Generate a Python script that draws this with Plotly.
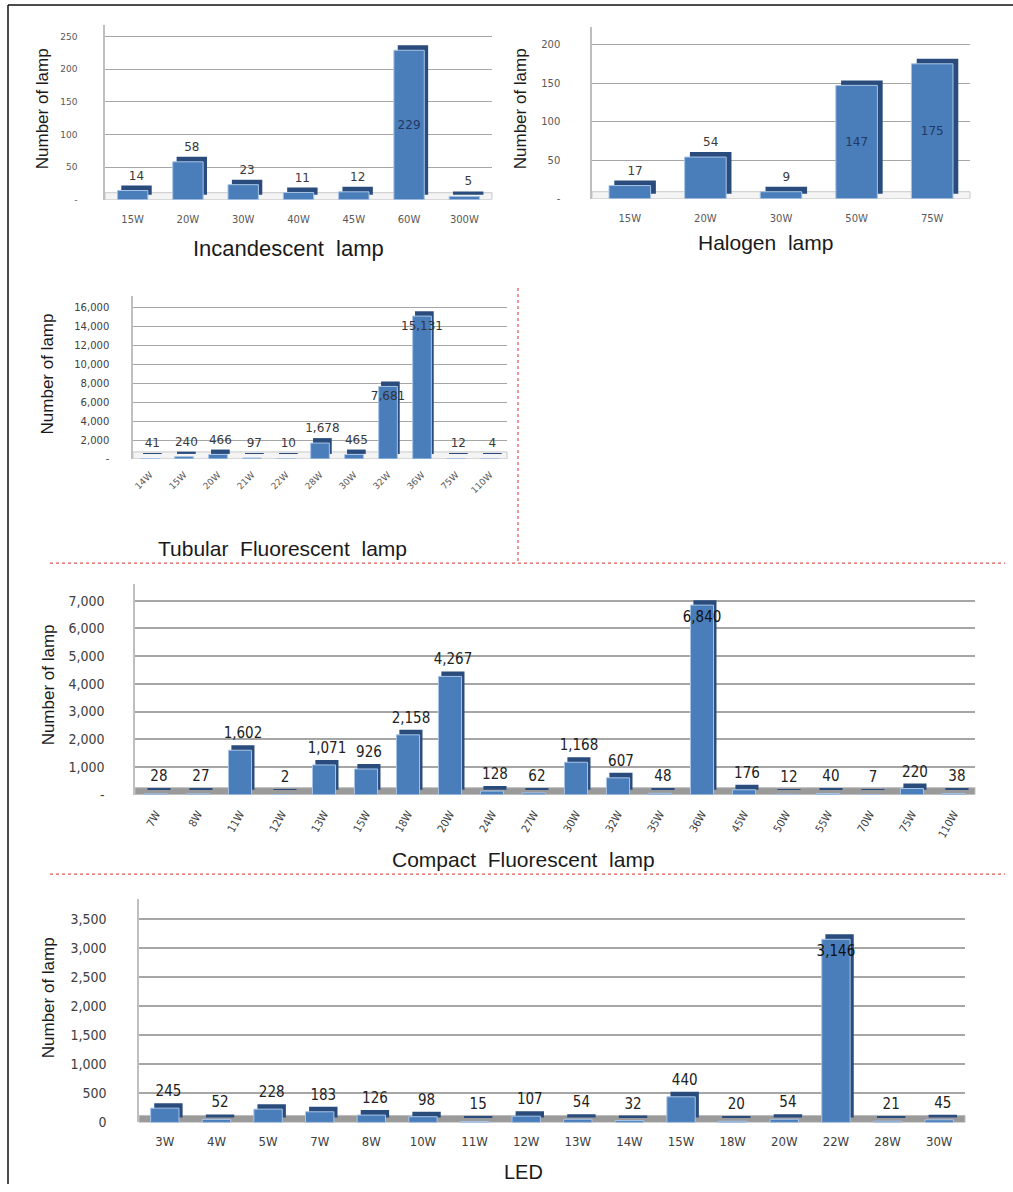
import plotly.graph_objects as go

# ---- lamp inventory by wattage -------------------------------------------
incandescent_watts = ["15W", "20W", "30W", "40W", "45W", "60W", "300W"]
incandescent_counts = [14, 58, 23, 11, 12, 229, 5]

halogen_watts = ["15W", "20W", "30W", "50W", "75W"]
halogen_counts = [17, 54, 9, 147, 175]

tubular_watts = ["14W", "15W", "20W", "21W", "22W", "28W", "30W", "32W", "36W", "75W", "110W"]
tubular_counts = [41, 240, 466, 97, 10, 1678, 465, 7681, 15131, 12, 4]

compact_watts = ["7W", "8W", "11W", "12W", "13W", "15W", "18W", "20W", "24W", "27W",
                 "30W", "32W", "35W", "36W", "45W", "50W", "55W", "70W", "75W", "110W"]
compact_counts = [28, 27, 1602, 2, 1071, 926, 2158, 4267, 128, 62,
                  1168, 607, 48, 6840, 176, 12, 40, 7, 220, 38]

led_watts = ["3W", "4W", "5W", "7W", "8W", "10W", "11W", "12W", "13W", "14W",
             "15W", "18W", "20W", "22W", "28W", "30W"]
led_counts = [245, 52, 228, 183, 126, 98, 15, 107, 54, 32, 440, 20, 54, 3146, 21, 45]

W, H = 1013, 1192

FRONT = "#4a7ebb"
SIDE = "#2a4c7c"
EDGE = "#a8c4e6"
GRID = "#a6a6a6"
TEXT = "#3a3a3a"
NARROW = "DejaVu Sans Condensed, Liberation Sans Narrow, Arial Narrow, sans-serif"
VERDANA = "DejaVu Sans, Verdana, sans-serif"
ARIAL = "Liberation Sans, Arial, sans-serif"


def xdom(left, right):
    return [left / W, right / W]


def ydom(top, bottom):
    return [1 - bottom / H, 1 - top / H]


# layout of each panel (pixel boxes) and axis styling
panels = [
    dict(cats=incandescent_watts, vals=incandescent_counts, x=(105, 492), y=(25, 201),
         ymax=268, step=50, zero="-", inside_min=100, anchor="middle",
         tickfont=dict(family=VERDANA, size=9, color="#595959"),
         xtickfont=dict(family=VERDANA, size=10, color="#595959"), tickangle=0,
         labelfont=dict(family=VERDANA, size=12, color=TEXT),
         insidefont=dict(family=VERDANA, size=12, color="#1f3864"),
         floor="#f4f4f4", floorline="#c8c8c8", grid=1.4, xstand=12, ystand=24),
    dict(cats=halogen_watts, vals=halogen_counts, x=(592, 970), y=(27, 200),
         ymax=223, step=50, zero="-", inside_min=100, anchor="middle",
         tickfont=dict(family=VERDANA, size=10, color="#595959"),
         xtickfont=dict(family=VERDANA, size=10, color="#595959"), tickangle=0,
         labelfont=dict(family=VERDANA, size=12, color=TEXT),
         insidefont=dict(family=VERDANA, size=12, color="#1f3864"),
         floor="#f4f4f4", floorline="#c8c8c8", grid=1.4, xstand=12, ystand=28),
    dict(cats=tubular_watts, vals=tubular_counts, x=(133, 507), y=(298, 462),
         ymax=17260, step=2000, zero="-", inside_min=5000, anchor="end",
         tickfont=dict(family=VERDANA, size=10, color="#404040"),
         xtickfont=dict(family=VERDANA, size=9, color="#595959"), tickangle=-45,
         labelfont=dict(family=VERDANA, size=12, color=TEXT),
         insidefont=dict(family=VERDANA, size=12, color="#333333"),
         floor="#f4f4f4", floorline="#c8c8c8", grid=1.4, xstand=8, ystand=20),
    dict(cats=compact_watts, vals=compact_counts, x=(135, 975), y=(588, 800),
         ymax=7600, step=1000, zero="-", inside_min=5000, anchor="end",
         tickfont=dict(family=NARROW, size=14, color="#404040"),
         xtickfont=dict(family=NARROW, size=11, color="#404040"), tickangle=-60,
         labelfont=dict(family=NARROW, size=15, color="#222222"),
         insidefont=dict(family=NARROW, size=15, color="#111111"),
         floor="#9a9a9a", floorline="#bdbdbd", grid=2, xstand=10, ystand=26),
    dict(cats=led_watts, vals=led_counts, x=(139, 965), y=(905, 1130),
         ymax=3840, step=500, zero="0", inside_min=2000, anchor="end",
         tickfont=dict(family=NARROW, size=14, color="#404040"),
         xtickfont=dict(family=NARROW, size=13, color="#404040"), tickangle=0,
         labelfont=dict(family=NARROW, size=15, color="#222222"),
         insidefont=dict(family=NARROW, size=15, color="#111111"),
         floor="#9a9a9a", floorline="#bdbdbd", grid=2.2, xstand=10, ystand=28),
]

fig = go.Figure()
shapes = []
BAR_W = 0.55
DEPTH_X = 0.07

for i, p in enumerate(panels, start=1):
    xa = "x" if i == 1 else f"x{i}"
    ya = "y" if i == 1 else f"y{i}"
    plot_h = p["y"][1] - p["y"][0]
    depth = 5 * p["ymax"] / plot_h  # ~5px of extrusion in data units
    labels = [f"{v:,}" for v in p["vals"]]
    outside = [t if v < p["inside_min"] else "" for t, v in zip(labels, p["vals"])]
    inside = [t if v >= p["inside_min"] else "" for t, v in zip(labels, p["vals"])]

    # extruded side/top face, lifted and shifted right of the front face
    fig.add_trace(go.Bar(
        x=p["cats"], y=p["vals"], base=depth, width=BAR_W,
        offset=-BAR_W / 2 + DEPTH_X, xaxis=xa, yaxis=ya,
        marker=dict(color=SIDE, line=dict(width=0)),
        text=outside, textposition="outside", textangle=0,
        textfont=p["labelfont"], cliponaxis=False, constraintext="none",
        hoverinfo="skip", showlegend=False))
    # front face
    fig.add_trace(go.Bar(
        x=p["cats"], y=p["vals"], width=BAR_W, offset=-BAR_W / 2,
        xaxis=xa, yaxis=ya,
        marker=dict(color=FRONT, line=dict(color=EDGE, width=1)),
        text=inside, textposition="inside", insidetextanchor=p["anchor"],
        textangle=0, insidetextfont=p["insidefont"], constraintext="none",
        cliponaxis=False, showlegend=False,
        hovertemplate="%{x}: %{y:,}<extra></extra>"))

    tickvals = list(range(0, int(p["ymax"]) + 1, p["step"]))
    ticktext = [p["zero"]] + [f"{v:,}" for v in tickvals[1:]]

    fig.layout[f"xaxis{i if i > 1 else ''}"] = dict(
        domain=xdom(*p["x"]), anchor=ya, showgrid=False, zeroline=False,
        showline=False, ticks="", tickangle=p["tickangle"], tickfont=p["xtickfont"],
        ticklabelstandoff=p["xstand"], fixedrange=True)
    fig.layout[f"yaxis{i if i > 1 else ''}"] = dict(
        domain=ydom(*p["y"]), anchor=xa, range=[0, p["ymax"]],
        tickvals=tickvals, ticktext=ticktext, tickfont=p["tickfont"],
        showgrid=True, gridcolor=GRID, gridwidth=p["grid"], zeroline=False,
        showline=True, linecolor="#bfbfbf", linewidth=1.5, ticks="",
        ticklabelstandoff=p["ystand"], fixedrange=True)

    # floor slab under the bars
    shapes.append(dict(type="rect", xref=f"{xa} domain", yref=ya,
                       x0=0, x1=1, y0=0, y1=depth * 1.4, layer="below",
                       fillcolor=p["floor"], line=dict(color=p["floorline"], width=1)))

fig.update_layout(barmode="overlay", bargap=0.4)

# separators and frame
RED = "#e0554f"
shapes += [
    dict(type="line", xref="paper", yref="paper", x0=518 / W, x1=518 / W,
         y0=1 - 290 / H, y1=1 - 567 / H, line=dict(color=RED, width=1.2, dash="dot")),
    dict(type="line", xref="paper", yref="paper", x0=50 / W, x1=1005 / W,
         y0=1 - 567 / H, y1=1 - 567 / H, line=dict(color=RED, width=1.2, dash="dot")),
    dict(type="line", xref="paper", yref="paper", x0=50 / W, x1=1005 / W,
         y0=1 - 880 / H, y1=1 - 880 / H, line=dict(color=RED, width=1.2, dash="dot")),
    dict(type="line", xref="paper", yref="paper", x0=8 / W, x1=8 / W,
         y0=1 - 5 / H, y1=0, line=dict(color="#111111", width=1.5)),
    dict(type="line", xref="paper", yref="paper", x0=8 / W, x1=1,
         y0=1 - 5 / H, y1=1 - 5 / H, line=dict(color="#111111", width=1.5)),
]

# panel titles and axis titles
annotations = []
titles = [("Incandescent\u00a0 lamp", 288, 250, 22), ("Halogen\u00a0 lamp", 765, 244, 21),
          ("Tubular\u00a0 Fluorescent\u00a0 lamp", 282, 552, 21),
          ("Compact\u00a0 Fluorescent\u00a0 lamp", 523, 865, 21), ("LED", 523, 1180, 20)]
for text, px, py, size in titles:
    annotations.append(dict(text=text, x=px / W, y=1 - py / H, xref="paper", yref="paper",
                            xanchor="center", yanchor="middle", showarrow=False,
                            font=dict(family=ARIAL, size=size, color="#1a1a1a")))
ytitles = [(42, 110), (520, 110), (47, 377), (48, 690), (48, 1005)]
for px, py in ytitles:
    annotations.append(dict(text="Number of lamp", x=px / W, y=1 - py / H,
                            xref="paper", yref="paper", xanchor="center", yanchor="middle",
                            textangle=-90, showarrow=False,
                            font=dict(family=ARIAL, size=17, color="#1a1a1a")))

fig.update_layout(
    width=W, height=H, margin=dict(l=0, r=0, t=0, b=0),
    paper_bgcolor="white", plot_bgcolor="rgba(0,0,0,0)",
    shapes=shapes, annotations=annotations,
)

fig.write_html("out.html", config={"displayModeBar": False})
